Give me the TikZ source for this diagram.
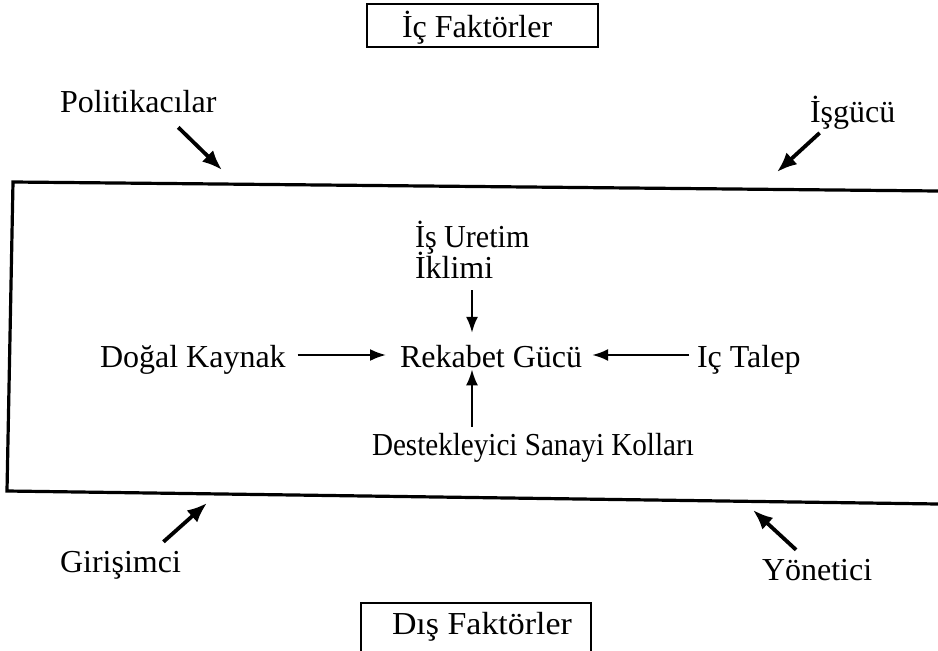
\documentclass[tikz,border=0pt]{standalone}
\usepackage{graphicx}
\usepackage{fontspec}
\setmainfont{Liberation Serif}
\usetikzlibrary{arrows.meta}
\begin{document}
\begin{tikzpicture}[x=1pt,y=-1pt,
  lbl/.style={inner sep=0pt, outer sep=0pt, anchor=base west, font=\fontsize{32}{35}\selectfont},
  arr/.style={-{Latex[length=20pt,width=16pt]}, line width=3.8pt},
  harr/.style={-{Latex[length=16pt,width=12pt]}, line width=2.2pt},
  frame/.style={line width=3.2pt},
  boxline/.style={line width=2.2pt}]
\useasboundingbox (0,0) rectangle (938,651);
% header / footer boxes
\draw[boxline] (367,4) rectangle (598,47);
\node[lbl] (ic) at (402,37) {İç Faktörler};
\draw[boxline] (361,660) -- (361,603) -- (591,603) -- (591,660);
\node[lbl] (dis) at (392,634) {\scalebox{1.06}[1]{Dış Faktörler}};
% main frame (open on the right)
\draw[frame] (938,191) -- (13,182) -- (7,491) -- (938,504);
% outer labels
\node[lbl] (pol) at (60,112) {Politikacılar};
\node[lbl] (isg) at (810,122) {İşgücü};
\node[lbl] (gir) at (60,572) {Girişimci};
\node[lbl] (yon) at (762,580) {Yönetici};
\coordinate (polTip) at (222,170);
\coordinate (isgTip) at (777,172);
\coordinate (girTip) at (207,503);
\coordinate (yonTip) at (753,510);
\draw[arr] ([shift={(40,15)}]pol.south) -- (polTip);
\draw[arr] ([shift={(-33,4)}]isg.south) -- (isgTip);
\draw[arr] ([shift={(43,-9)}]gir.north) -- (girTip);
\draw[arr] ([shift={(-21,-9)}]yon.north) -- (yonTip);
% inner labels
\node[lbl] (uretim) at (415,247) {\scalebox{0.94}[1]{İş Uretim}};
\node[lbl] (iklimi) at (415,278) {İklimi};
\node[lbl] (dogal) at (100,367) {Doğal Kaynak};
\node[lbl] (rek) at (400,367) {Rekabet Gücü};
\node[lbl] (talep) at (697,367) {Iç Talep};
\node[lbl] (dest) at (372,455) {\scalebox{0.91}[1]{Destekleyici Sanayi Kolları}};
\coordinate (vx) at (472,0);
\coordinate (hy) at (0,355);
\draw[harr, shorten <=12pt, shorten >=14pt] (dogal.east |- hy) -- (rek.west |- hy);
\draw[harr, shorten <=8pt, shorten >=10pt] (talep.west |- hy) -- (rek.east |- hy);
\draw[harr, shorten <=12pt, shorten >=12pt] (iklimi.south -| vx) -- (rek.north -| vx);
\draw[harr, shorten <=6pt, shorten >=2pt] (dest.north -| vx) -- (rek.south -| vx);
\end{tikzpicture}
\end{document}
